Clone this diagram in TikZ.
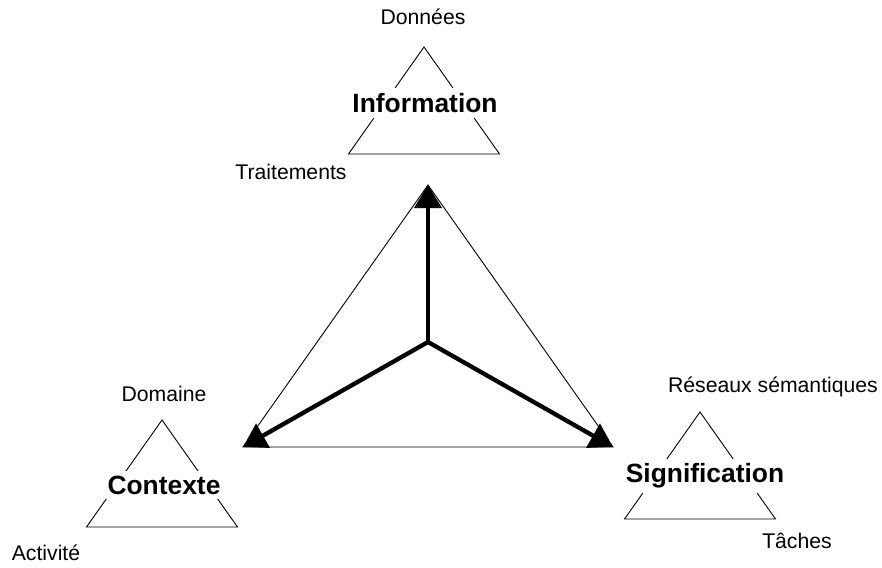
\documentclass[tikz,border=0pt]{standalone}
\usepackage{fontspec}
\setmainfont{Liberation Sans}
\usetikzlibrary{arrows.meta}
\usetikzlibrary{calc}
\tikzset{
  triedge/.style={draw=black, line width=0.9pt, line join=miter},
  triarrow/.style={-{Triangle[length=23pt, width=27pt]}, line width=4.3pt},
  tripole/.style={fill=white, inner xsep=2pt, inner ysep=5pt,
    font=\fontsize{26.4}{30}\selectfont\bfseries},
  trilabel/.style={inner sep=0pt, font=\fontsize{21.2}{24}\selectfont},
}

\begin{document}
\begin{tikzpicture}[x=1pt, y=-1pt]
\useasboundingbox (0,0) rectangle (882,567);

% Central triangle and its three axes.
\coordinate (top) at (428,185);
\coordinate (left) at (243,447);
\coordinate (right) at (613,447);
\coordinate (mid) at (428,342);
\draw[triedge] (top) -- (left) -- (right) -- cycle;
\draw[triarrow] (mid) -- (top);
\draw[triarrow] (mid) -- (left);
\draw[triarrow] (mid) -- (right);

% Small triangles, one per pole.
\foreach \n/\x/\y in {inf/424/47, ctx/162/420, sig/700/412} {
  \coordinate (\n a) at (\x,\y);
  \coordinate (\n l) at (\x-75.5,\y+107);
  \coordinate (\n r) at (\x+75.5,\y+107);
  \draw[triedge] (\n a) -- (\n l) -- (\n r) -- cycle;
}

% Pole names over their triangles.
\node[tripole] (information) at (425,103) {Information};
\node[tripole] (contexte) at (164,485) {Contexte};
\node[tripole] (signification) at (705,476) {Signification};

% Corner labels.
\node[trilabel] (donnees) at (423,17) {Données};
\node[trilabel] (traitements) at (291,172) {Traitements};
\node[trilabel] (domaine) at (164,394) {Domaine};
\node[trilabel] (activite) at (46,553) {Activité};
\node[trilabel] (reseaux) at (773,387) {Réseaux sémantiques};
\node[trilabel] (taches) at (797,541) {Tâches};

\end{tikzpicture}
\end{document}
